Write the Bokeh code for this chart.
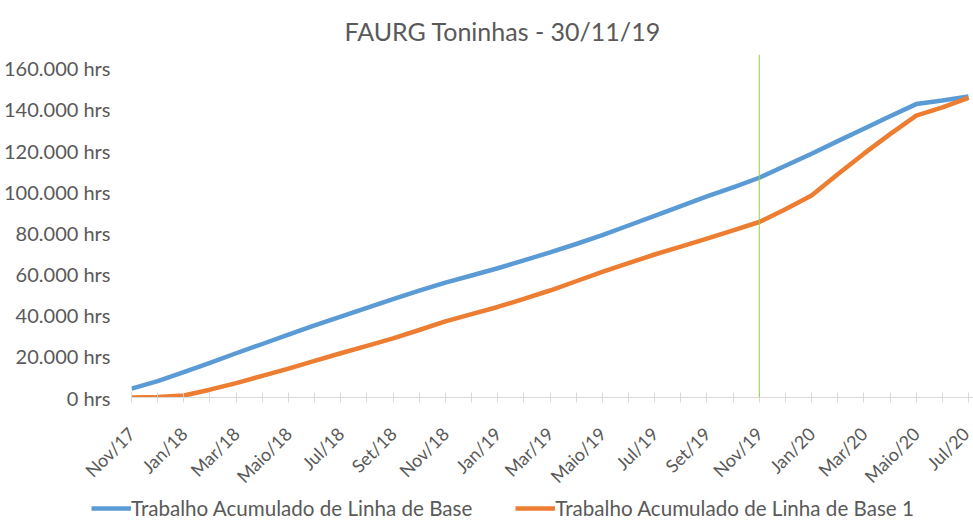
import math
from bokeh.plotting import figure
from bokeh.layouts import column
from bokeh.models import FixedTicker, Span, Legend, LegendItem, Range1d
from bokeh.embed import file_html
from bokeh.resources import INLINE

# ---- data -------------------------------------------------------------
months = ["Nov/17", "Dez/17", "Jan/18", "Fev/18", "Mar/18", "Abr/18", "Maio/18",
          "Jun/18", "Jul/18", "Ago/18", "Set/18", "Out/18", "Nov/18", "Dez/18",
          "Jan/19", "Fev/19", "Mar/19", "Abr/19", "Maio/19", "Jun/19", "Jul/19",
          "Ago/19", "Set/19", "Out/19", "Nov/19", "Dez/19", "Jan/20", "Fev/20",
          "Mar/20", "Abr/20", "Maio/20", "Jun/20", "Jul/20"]

baseline = [4300, 8000, 12300, 16800, 21500, 26000, 30500, 35000, 39300, 43600,
            47800, 51900, 55800, 59300, 62800, 66600, 70500, 74600, 78900, 83600,
            88300, 93000, 97700, 102100, 106800, 112600, 118500, 124600, 130600,
            136700, 142600, 144300, 146300]

baseline1 = [0, 300, 1000, 3800, 7000, 10500, 14000, 17800, 21500, 25100,
             28700, 32800, 37000, 40500, 44000, 47900, 52000, 56500, 61000, 65300,
             69500, 73300, 77200, 81200, 85300, 91500, 98200, 108500, 118500,
             128000, 137000, 141000, 145600]

y_ticks = [0, 20000, 40000, 60000, 80000, 100000, 120000, 140000, 160000]
y_tick_labels = ["0 hrs", "20.000 hrs", "40.000 hrs", "60.000 hrs", "80.000 hrs",
                 "100.000 hrs", "120.000 hrs", "140.000 hrs", "160.000 hrs"]

status_month = "Nov/19"
title_text = "FAURG Toninhas - 30/11/19"
series_names = ["Trabalho Acumulado de Linha de Base",
                "Trabalho Acumulado de Linha de Base 1"]
series_colors = ["#5B9BD5", "#ED7D31"]

# ---- main figure ------------------------------------------------------
FONT = "Lato"
GREY = "#595959"
x = list(range(len(months)))

p = figure(width=973, height=497, output_backend="svg", toolbar_location=None,
           x_range=Range1d(0, len(months) - 1 + 0.19), y_range=Range1d(0, 166700),
           min_border_left=131, min_border_right=0, min_border_top=54,
           min_border_bottom=95)

p.title.text = title_text
p.title.align = "left"
p.title.offset = 213
p.title.standoff = 18
p.title.text_font = FONT
p.title.text_font_size = "25px"
p.title.text_font_style = "normal"
p.title.text_color = GREY

p.outline_line_color = None
p.xgrid.grid_line_color = None
p.ygrid.grid_line_color = None

# y axis
p.yaxis.ticker = FixedTicker(ticks=y_ticks)
p.yaxis.major_label_overrides = {t: l for t, l in zip(y_ticks, y_tick_labels)}
p.yaxis.axis_line_color = None
p.yaxis.major_tick_line_color = None
p.yaxis.major_tick_out = 0
p.yaxis.major_tick_in = 0
p.yaxis.minor_tick_line_color = None
p.yaxis.major_label_standoff = 21
p.yaxis.major_label_text_font = FONT
p.yaxis.major_label_text_font_size = "20px"
p.yaxis.major_label_text_color = GREY

# x axis
p.xaxis.ticker = FixedTicker(ticks=x)
p.xaxis.major_label_overrides = {i: (m if i % 2 == 0 else "") for i, m in zip(x, months)}
p.xaxis.major_label_orientation = math.pi / 4
p.xaxis.axis_line_color = "#D9D9D9"
p.xaxis.major_tick_line_color = "#D9D9D9"
p.xaxis.major_tick_in = 5
p.xaxis.major_tick_out = 5
p.xaxis.minor_tick_line_color = None
p.xaxis.major_label_standoff = 28
p.xaxis.major_label_text_font = FONT
p.xaxis.major_label_text_font_size = "18px"
p.xaxis.major_label_text_color = GREY

p.line(x, baseline, line_color=series_colors[0], line_width=4.5, line_join="round")
p.line(x, baseline1, line_color=series_colors[1], line_width=4.5, line_join="round")

p.add_layout(Span(location=months.index(status_month), dimension="height",
                  line_color="#92D050", line_width=1))

# ---- legend strip (series drawn out of view, only the legend shows) ---
lp = figure(width=973, height=26, output_backend="svg", toolbar_location=None,
            min_border=0, x_axis_location=None, y_axis_location=None,
            x_range=Range1d(0, 1), y_range=Range1d(-3, -2))
lp.grid.visible = False
lp.outline_line_color = None
lr1 = lp.line(x, baseline, line_color=series_colors[0], line_width=4.5)
lr2 = lp.line(x, baseline1, line_color=series_colors[1], line_width=4.5)

if "frame_align" in lp.properties():
    lp.frame_align = False
    p.frame_align = False

legend = Legend(items=[LegendItem(label=series_names[0], renderers=[lr1]),
                       LegendItem(label=series_names[1], renderers=[lr2])],
                orientation="horizontal", location=(91, 3),
                label_text_font=FONT, label_text_font_size="20.6px",
                label_text_color=GREY, glyph_width=40, glyph_height=20,
                label_height=20, label_standoff=0, spacing=43, padding=0, margin=0,
                border_line_color=None, background_fill_alpha=0)
lp.add_layout(legend)

layout = column(p, lp, spacing=0)
open("out.html", "w").write(file_html(layout, INLINE))
